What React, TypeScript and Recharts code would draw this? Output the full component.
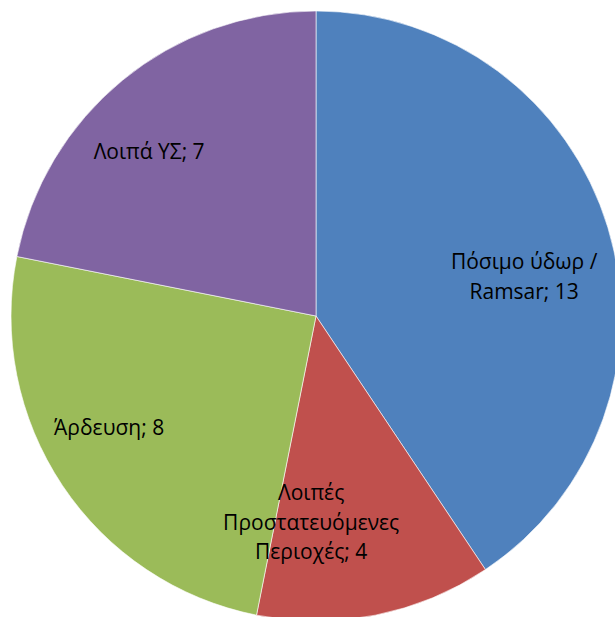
import { PieChart, Pie, Cell } from 'recharts';

const categories = [
  'Πόσιμο ύδωρ / Ramsar',
  'Λοιπές Προστατευόμενες Περιοχές',
  'Άρδευση',
  'Λοιπά ΥΣ',
];
const values = [13, 4, 8, 7];
const colors = ['#4F81BD', '#C0504D', '#9BBB59', '#8064A2'];

// label placement tweaks (Excel "best fit" look): angle shift in degrees, radius factor
const labelAngleShift = [-6, -12.6, -5.5, 5.9];
const labelRadius = [0.695, 0.675, 0.77, 0.77];

const RADIAN = Math.PI / 180;

function wrap(text: string, maxChars: number): string[] {
  const words = text.split(' ');
  const lines: string[] = [];
  let cur = '';
  words.forEach((w) => {
    const next = cur ? cur + ' ' + w : w;
    if (next.length > maxChars && cur) {
      lines.push(cur);
      cur = w;
    } else {
      cur = next;
    }
  });
  if (cur) lines.push(cur);
  return lines;
}

const renderLabel = (props: any) => {
  const { cx, cy, midAngle, outerRadius, index, name, value } = props;
  const angle = (midAngle + labelAngleShift[index]) * RADIAN;
  const r = outerRadius * labelRadius[index];
  const x = cx + r * Math.cos(-angle);
  const y = cy + r * Math.sin(-angle);
  const lines = wrap(`${name}; ${value}`, 15);
  const lineHeight = 29.5;
  const startY = y - ((lines.length - 1) * lineHeight) / 2;
  return (
    <text
      x={x}
      y={startY}
      textAnchor="middle"
      dominantBaseline="central"
      fill="#000"
      fontSize={21}
      fontFamily="'Open Sans', 'Noto Sans', sans-serif"
    >
      {lines.map((l, i) => (
        <tspan key={i} x={x} y={startY + i * lineHeight} dominantBaseline="central">
          {l}
        </tspan>
      ))}
    </text>
  );
};

export default function App() {
  const data = categories.map((name, i) => ({ name, value: values[i] }));

  return (
    <div style={{ position: 'fixed', left: 0, top: 0, width: 615, height: 617, overflow: 'hidden', background: '#fff' }}>
      <PieChart width={615} height={617} margin={{ top: 0, right: 0, bottom: 0, left: 0 }}>
        <Pie
          data={data}
          dataKey="value"
          nameKey="name"
          cx={316}
          cy={316}
          outerRadius={305}
          startAngle={90}
          endAngle={-270}
          stroke="#ffffff"
          strokeOpacity={0.6}
          strokeWidth={1}
          label={renderLabel}
          labelLine={false}
          isAnimationActive={false}
        >
          {data.map((d, i) => (
            <Cell key={d.name} fill={colors[i]} />
          ))}
        </Pie>
      </PieChart>
    </div>
  );
}
